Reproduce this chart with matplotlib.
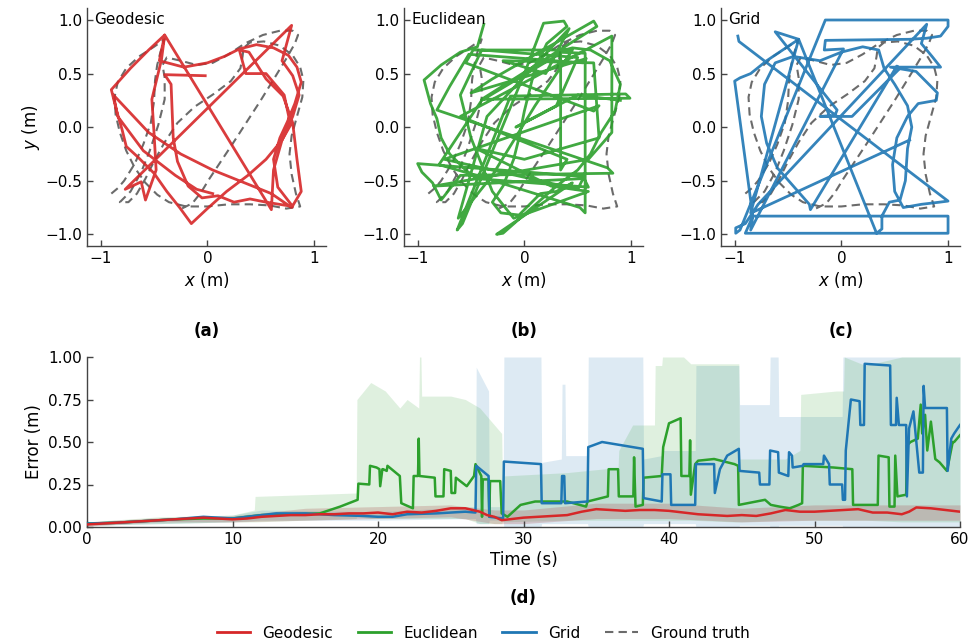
import matplotlib
matplotlib.use("Agg")
import matplotlib.pyplot as plt
from matplotlib.lines import Line2D

# ---------------- data: trajectories (m) ----------------
gt_x = [-0.90, -0.84, -0.78, -0.68, -0.60, -0.53, -0.50, -0.49, -0.47, -0.44, -0.40,
        -0.50, -0.64, -0.76, -0.84, -0.87, -0.86, -0.82, -0.76, -0.68, -0.58, -0.47, -0.36, -0.20, 0.00, 0.20,
        0.40, 0.58, 0.74, 0.87,
        0.83, 0.79, 0.77, 0.79, 0.84, 0.89, 0.90, 0.87, 0.80, 0.68, 0.53, 0.40, 0.34, 0.33,
        0.31, 0.22, 0.06, -0.12, -0.28, -0.40, -0.50, -0.58, -0.66, -0.74, -0.82,
        -0.72, -0.62, -0.54, -0.46, -0.40, -0.40, -0.42, -0.38,
        -0.25, -0.10, 0.05, 0.20, 0.35, 0.52, 0.68, 0.80, 0.85, 0.82, 0.74, 0.63, 0.50, 0.37, 0.24, 0.12, 0.02,
        -0.06, -0.14, -0.24]
gt_y = [-0.62, -0.57, -0.50, -0.34, -0.16, 0.04, 0.24, 0.44, 0.58, 0.70, 0.82,
        0.75, 0.66, 0.55, 0.42, 0.28, 0.12, -0.05, -0.22, -0.38, -0.52, -0.63, -0.70, -0.74, -0.74, -0.72,
        -0.72, -0.73, -0.76, -0.74,
        -0.62, -0.44, -0.25, -0.08, 0.10, 0.28, 0.44, 0.56, 0.67, 0.76, 0.80, 0.79, 0.74, 0.66,
        0.55, 0.43, 0.31, 0.19, 0.04, -0.14, -0.32, -0.48, -0.62, -0.70, -0.70,
        -0.60, -0.42, -0.22, 0.02, 0.26, 0.46, 0.58, 0.65,
        0.62, 0.58, 0.60, 0.68, 0.78, 0.86, 0.90, 0.90, 0.86, 0.78, 0.64, 0.46, 0.25, 0.05, -0.15, -0.33, -0.48,
        -0.61, -0.71, -0.76]

geo_x = [-0.02, -0.40, -0.34, -0.33, -0.32, -0.28, -0.18, -0.05, 0.10, 0.25, 0.40, 0.55, 0.80,
         0.66, 0.62, 0.68, 0.75, 0.82, 0.88, 0.84, 0.76, 0.62, 0.46, 0.30, 0.16, 0.00, -0.22, -0.45, -0.40,
         0.60, 0.62, 0.70, 0.80, 0.86, 0.80, 0.70, 0.79,
         -0.77, -0.62, -0.58, -0.48, -0.50, -0.52, -0.43, -0.40,
         -0.55, -0.72, -0.90, -0.85, -0.80, -0.76, -0.65, -0.50, -0.38, -0.26, -0.15,
         0.00, 0.18, 0.38, 0.55, 0.70, 0.78,
         0.72, 0.55, 0.36, 0.30, 0.39, 0.55, 0.71, 0.80, 0.84, 0.88, 0.79,
         0.60, 0.30, 0.05, -0.25, -0.55, -0.88, -0.84, -0.60, -0.30, -0.10, 0.05]
geo_y = [0.48, 0.49, 0.40, 0.15, -0.10, -0.32, -0.55, -0.66, -0.64, -0.70, -0.67, -0.70, -0.74,
         -0.56, -0.30, -0.10, 0.05, 0.22, 0.42, 0.56, 0.67, 0.74, 0.77, 0.73, 0.66, 0.60, 0.56, 0.62, 0.86,
         -0.77, -0.40, -0.12, 0.10, 0.30, 0.48, 0.62, 0.95,
         -0.58, -0.51, -0.68, -0.40, -0.05, 0.26, 0.63, 0.86,
         0.72, 0.55, 0.35, 0.15, -0.02, -0.18, -0.28, -0.43, -0.60, -0.75, -0.90,
         -0.76, -0.60, -0.45, -0.30, -0.12, 0.02,
         0.30, 0.50, 0.50, 0.72, 0.70, 0.45, 0.29, 0.04, -0.30, -0.60, -0.75,
         -0.62, -0.50, -0.40, -0.25, -0.05, 0.30, 0.10, -0.22, -0.45, -0.58, -0.62]

euc_x = [-0.38, -0.44, -0.60, -0.78, -0.94, -0.88, -0.82, -0.78, -0.70, -0.55, -0.45,
         0.60, 0.55, -1.00, -0.96, -0.86, -0.78, -0.60, 0.83, 0.78, -0.82, -0.70, -0.52,
         0.55, 0.58, -0.50, -0.30, 0.65, 0.68, -0.40, 0.99, 0.95, -0.13, -0.63, -0.58, 0.00,
         0.18, 0.37, 0.40, 0.21, 0.10, 0.05, 0.00, -0.05, -0.10, -0.20, -0.30, -0.22, -0.05, 0.15, 0.30, 0.45,
         -0.26, -0.20, 0.30, 0.50, 0.62, 0.72, 0.85, 0.90, 0.80, 0.62, 0.45, 0.30, 0.57, 0.57, 0.52,
         -0.45, -0.80, -0.40, 0.34, 0.34, 0.40, -0.60, 0.82, 0.82, 0.60,
         -0.85, 0.55, 0.50, -0.75, 0.70, 0.65, -0.55, -0.48, 0.45, 0.10, -0.30, -0.62, -0.35, 0.42, 0.20,
         -0.20, 0.65, 0.70, 0.00, -0.45, 0.25, 0.60, -0.10, -0.30, -0.50, -0.60, -0.40, 0.50, 0.30, -0.08,
         0.50, 0.90]
euc_y = [0.96, 0.75, 0.70, 0.58, 0.44, 0.22, 0.08, -0.10, -0.25, -0.40, -0.48,
         -0.56, -0.46, -0.34, -0.42, -0.52, -0.68, -0.45, -0.43, -0.38, 0.16, 0.38, 0.68,
         0.60, 0.64, 0.32, 0.45, 0.99, 0.94, 0.26, 0.27, 0.31, 0.29, -0.96, -0.90, 0.50,
         0.97, 0.99, 0.94, 0.78, 0.55, 0.35, 0.15, -0.10, -0.30, -0.55, -0.70, -0.80, -0.82, -0.62, -0.60, -0.52,
         -1.00, -0.99, -0.55, -0.40, -0.25, -0.05, 0.15, 0.40, 0.62, 0.72, 0.74, 0.70, 0.69, -0.80, -0.75,
         -0.45, -0.35, 0.25, 0.69, -0.40, -0.30, 0.10, 0.85, -0.05, -0.30,
         -0.55, -0.48, -0.58, -0.30, 0.20, 0.15, 0.60, 0.72, 0.72, 0.20, -0.45, -0.85, 0.10, 0.92, 0.50,
         0.62, 0.60, -0.10, -0.30, -0.20, -0.55, -0.60, -0.85, -0.60, -0.10, 0.30, 0.72, 0.65, 0.20, 0.00,
         0.30, 0.25]

grid_x = [-0.97, -0.96, 1.00, 0.92, 0.75, 0.58, 0.50, 0.48, 0.52, 0.62, 0.72, 0.89, 0.90, 0.80, 0.70, 0.46, 0.93,
          0.85, 0.75, 0.80, -0.78, -0.90, -0.99, -0.99, -0.95, -0.15, 1.00, 1.00, 0.93, 0.80, 0.64, -0.15, -0.16, 0.02,
          -0.85, -0.83, 1.00, 1.00, -0.90, -0.83, -1.00, -0.95, -0.85, -0.70, -0.55, -0.40,
          0.33, 0.38, 0.38, 0.45, 0.55, 0.60, 0.62, 0.66, 0.62, 0.50, 0.40, 0.35, 0.20, 0.00, -0.20, -0.45, -0.62,
          -0.72, -0.75, -0.70, -0.60, -0.45, -0.30, -0.29, 0.52, 0.55, 0.35, 0.10, -0.20, -0.06, -0.04,
          -0.62, -0.40, -0.85, -0.80, 0.64]
grid_y = [0.85, 0.80, -0.69, -0.70, -0.72, -0.75, -0.60, -0.35, -0.10, 0.10, 0.22, 0.25, 0.32, 0.42, 0.52, 0.56, 0.56,
          0.66, 0.78, 0.96, -0.72, -0.90, -0.94, -0.99, -0.96, 1.00, 1.00, 0.94, 0.85, 0.83, 0.82, 0.81, 0.72, 0.73,
          -0.96, -0.83, -0.83, -0.99, -0.99, -0.83, 0.43, 0.46, 0.50, 0.62, 0.72, 0.82,
          -0.99, -0.95, -0.83, -0.70, -0.68, -0.50, -0.20, 0.00, 0.20, 0.40, 0.55, 0.72, 0.75, 0.70, 0.62, 0.66, 0.60,
          0.40, 0.10, -0.15, -0.38, -0.55, -0.72, -0.77, 0.57, 0.55, 0.35, 0.10, 0.10, 0.11, 0.16,
          0.89, 0.82, -0.80, -0.78, -0.12]

# ---------------- data: error over time ----------------
geo_t = [0, 1, 2, 3, 4, 5, 6, 7, 8, 9, 10, 11, 12, 13, 14, 15, 16, 17, 18, 19, 20, 21, 22, 23, 24, 25, 26, 26.5, 27,
         27.5, 28, 28.5, 29, 30, 31, 32, 33, 34, 35, 36, 37, 38, 39, 40, 41, 42, 43, 44, 45, 46, 47, 48, 49, 50, 51,
         52, 53, 54, 55, 56, 56.5, 57, 58, 59, 60]
geo_err = [0.015, 0.02, 0.025, 0.03, 0.035, 0.04, 0.045, 0.05, 0.055, 0.05, 0.045, 0.05, 0.06, 0.065, 0.07, 0.07,
           0.075, 0.075, 0.08, 0.08, 0.085, 0.075, 0.09, 0.085, 0.095, 0.11, 0.11, 0.10, 0.09, 0.07, 0.06, 0.04,
           0.045, 0.055, 0.06, 0.065, 0.07, 0.09, 0.105, 0.10, 0.095, 0.10, 0.10, 0.095, 0.085, 0.075, 0.07, 0.065,
           0.07, 0.065, 0.08, 0.10, 0.09, 0.09, 0.095, 0.10, 0.105, 0.085, 0.085, 0.075, 0.09, 0.115, 0.11, 0.10, 0.09]
geo_band_t = [0, 5, 10, 15, 20, 25, 28, 30, 35, 40, 45, 50, 55, 60]
geo_band_hi = [0.03, 0.055, 0.065, 0.11, 0.12, 0.13, 0.10, 0.10, 0.14, 0.14, 0.11, 0.13, 0.13, 0.13]
geo_band_lo = [0.005, 0.03, 0.03, 0.04, 0.05, 0.06, 0.02, 0.02, 0.05, 0.05, 0.03, 0.04, 0.04, 0.04]

euc_t = [0, 2, 4, 6, 8, 10, 12, 14, 16, 17.4, 18.3, 18.6, 18.65, 19.4, 19.45, 19.9, 20.1, 20.15, 20.3, 20.35, 20.6,
         20.65, 21.5, 21.6, 22.4, 22.45, 22.75, 22.8, 22.85, 23.9, 23.95, 24.5, 24.55, 25.0, 25.05, 25.3, 25.35, 26.1,
         26.6, 26.7, 27.1, 27.15, 27.2, 27.6, 27.65, 27.7, 28.4, 28.5, 28.9, 29.8, 30.8, 33.0, 34.3, 34.4, 35.8, 35.85,
         36.5, 36.55, 37.55, 37.6, 37.7, 38.2, 38.25, 39.5, 39.6, 40.0, 40.8, 40.85, 41.4, 41.45, 41.5, 41.8, 42.0,
         43.1, 44.5, 44.75, 44.8, 46.6, 47.0, 47.6, 48.3, 48.9, 49.15, 49.2, 51.3, 52.6, 52.65, 54.35, 54.4, 55.1,
         55.15, 55.5, 55.55, 55.7, 56.3, 56.35, 56.6, 57.1, 57.3, 57.4, 57.6, 57.75, 58.0, 58.3, 58.6, 59.1, 59.5,
         59.6, 60]
euc_err = [0.02, 0.025, 0.035, 0.045, 0.05, 0.05, 0.07, 0.075, 0.08, 0.12, 0.15, 0.16, 0.255, 0.25, 0.36, 0.35,
           0.34, 0.24, 0.34, 0.34, 0.33, 0.36, 0.30, 0.14, 0.11, 0.30, 0.30, 0.52, 0.30, 0.29, 0.18, 0.18, 0.34,
           0.33, 0.20, 0.20, 0.29, 0.24, 0.30, 0.37, 0.30, 0.06, 0.28, 0.28, 0.06, 0.27, 0.27, 0.08, 0.06, 0.13,
           0.15, 0.15, 0.12, 0.15, 0.18, 0.34, 0.34, 0.18, 0.18, 0.41, 0.12, 0.13, 0.29, 0.30, 0.47, 0.61, 0.64,
           0.30, 0.30, 0.51, 0.19, 0.37, 0.39, 0.40, 0.37, 0.36, 0.13, 0.16, 0.13, 0.12, 0.11, 0.13, 0.14, 0.36,
           0.35, 0.34, 0.13, 0.13, 0.42, 0.41, 0.12, 0.12, 0.42, 0.18, 0.19, 0.48, 0.50, 0.52, 0.72, 0.55, 0.66,
           0.45, 0.62, 0.40, 0.38, 0.33, 0.50, 0.50, 0.54]
euc_band_t = [0, 5, 10, 11.5, 11.55, 18.5, 18.55, 19.5, 20.5, 21.5, 22.0, 22.8, 22.85, 22.95, 23.0, 25.0, 26.0,
              27.0, 28.5, 28.55, 33.0, 36.5, 36.55, 37.5, 39.0, 39.05, 39.5, 39.55, 41.0, 41.5, 44.5, 44.8, 44.85,
              48.0, 49.0, 49.05, 51.5, 52.0, 52.05, 53.5, 56.0, 58.0, 60]
euc_band_hi = [0.03, 0.06, 0.07, 0.10, 0.18, 0.20, 0.75, 0.85, 0.80, 0.70, 0.75, 0.70, 1.0, 1.0, 0.77, 0.77, 0.75,
               0.70, 0.55, 0.30, 0.32, 0.35, 0.45, 0.60, 0.60, 0.95, 0.95, 1.0, 1.0, 0.96, 0.96, 0.96, 0.40, 0.40,
               0.45, 0.78, 0.80, 0.80, 1.0, 0.95, 1.0, 1.0, 1.0]
euc_band_lo = [0.01, 0.02, 0.03, 0.03, 0.03, 0.05, 0.06, 0.05, 0.05, 0.05, 0.05, 0.05, 0.05, 0.05, 0.05, 0.05,
               0.05, 0.02, 0.02, 0.03, 0.04, 0.04, 0.04, 0.04, 0.04, 0.04, 0.04, 0.04, 0.04, 0.04, 0.03, 0.03, 0.03,
               0.04, 0.04, 0.04, 0.04, 0.04, 0.04, 0.04, 0.03, 0.03, 0.03]

grid_t = [0, 2, 4, 6, 8, 9, 10, 12, 13, 15, 17, 19, 20, 21, 22, 24, 26, 26.7, 26.75, 27.6, 27.65, 28.6, 28.65,
          31.2, 31.25, 32.6, 32.65, 32.8, 32.85, 34.4, 34.45, 35.4, 38.2, 38.25, 39.5, 39.55, 40.1, 40.15, 41.8,
          41.85, 43.1, 43.15, 43.5, 44.0, 44.8, 44.85, 46.2, 46.25, 46.9, 46.95, 47.5, 47.55, 48.2, 48.25, 48.45,
          48.5, 49.2, 49.25, 50.6, 50.65, 51.0, 51.05, 51.9, 51.95, 52.1, 52.15, 52.5, 53.1, 53.15, 53.4, 53.45,
          55.2, 55.25, 55.6, 55.65, 55.8, 56.3, 56.35, 56.5, 56.8, 57.0, 57.2, 57.45, 57.5, 57.6, 59.1, 59.15, 59.4,
          59.6, 60]
grid_err = [0.02, 0.025, 0.035, 0.045, 0.06, 0.055, 0.05, 0.07, 0.08, 0.08, 0.07, 0.065, 0.06, 0.06, 0.075, 0.08,
            0.09, 0.085, 0.36, 0.30, 0.06, 0.05, 0.385, 0.37, 0.14, 0.14, 0.30, 0.30, 0.14, 0.15, 0.47, 0.50, 0.46,
            0.17, 0.15, 0.31, 0.31, 0.13, 0.13, 0.37, 0.37, 0.20, 0.34, 0.42, 0.46, 0.33, 0.32, 0.25, 0.25, 0.45,
            0.44, 0.32, 0.30, 0.44, 0.42, 0.35, 0.36, 0.37, 0.37, 0.42, 0.37, 0.25, 0.25, 0.16, 0.16, 0.45, 0.75,
            0.74, 0.60, 0.60, 0.96, 0.95, 0.60, 0.60, 0.76, 0.60, 0.60, 0.18, 0.58, 0.68, 0.50, 0.32, 0.32, 0.83,
            0.70, 0.70, 0.33, 0.52, 0.55, 0.60]
grid_band_t = [0, 10, 12, 20, 26.7, 26.75, 27.6, 27.65, 28.6, 28.65, 31.2, 31.25, 32.6, 32.65, 32.85, 32.9, 34.4,
               34.45, 38.2, 38.25, 39.5, 39.55, 41.8, 41.85, 44.8, 44.85, 46.9, 46.95, 47.5, 47.55, 51.9, 51.95, 60]
grid_band_hi = [0.03, 0.07, 0.10, 0.09, 0.12, 0.94, 0.80, 0.12, 0.12, 1.0, 1.0, 0.38, 0.40, 0.84, 0.84, 0.42, 0.42,
                1.0, 1.0, 0.40, 0.42, 0.45, 0.45, 0.95, 0.95, 0.72, 0.72, 1.0, 1.0, 0.65, 0.65, 1.0, 1.0]
grid_band_lo = [0.01, 0.03, 0.04, 0.04, 0.05, 0.02, 0.02, 0.04, 0.04, 0.0, 0.0, 0.02, 0.02, 0.02, 0.02, 0.02, 0.02,
                0.0, 0.0, 0.02, 0.02, 0.02, 0.02, 0.0, 0.0, 0.01, 0.01, 0.0, 0.0, 0.01, 0.01, 0.0, 0.0]

# ---------------- styling ----------------
RED, GREEN, BLUE, GT = "#d62728", "#2ca02c", "#1f77b4", "#6b6b6b"
plt.rcParams["font.family"] = ["DejaVu Sans"]
plt.rcParams["font.size"] = 11

W, H = 972, 644
fig = plt.figure(figsize=(W / 100, H / 100), dpi=100)


def px_rect(left, top, right, bottom):
    return [left / W, (H - bottom) / H, (right - left) / W, (bottom - top) / H]


def style(ax):
    for s in ("top", "right"):
        ax.spines[s].set_visible(False)
    for s in ("left", "bottom"):
        ax.spines[s].set_color("#444444")
        ax.spines[s].set_linewidth(1.0)
    ax.tick_params(direction="in", length=4, width=1, color="#444444", labelsize=11)


panels = [
    (87, "Geodesic", geo_x, geo_y, RED, "(a)"),
    (404, "Euclidean", euc_x, euc_y, GREEN, "(b)"),
    (721, "Grid", grid_x, grid_y, BLUE, "(c)"),
]
for i, (left, name, xs, ys, col, lab) in enumerate(panels):
    ax = fig.add_axes(px_rect(left, 8, left + 239, 246))
    style(ax)
    ax.plot(gt_x, gt_y, color=GT, lw=1.5, ls=(0, (4, 2.5)), zorder=2)
    ax.plot(xs, ys, color=col, lw=2.0, alpha=0.9, zorder=3)
    ax.set_xlim(-1.128, 1.112)
    ax.set_ylim(-1.109, 1.112)
    ax.set_xticks([-1, 0, 1])
    ax.set_yticks([-1.0, -0.5, 0.0, 0.5, 1.0])
    ax.set_xticklabels(["\u22121", "0", "1"])
    ax.set_yticklabels(["\u22121.0", "\u22120.5", "0.0", "0.5", "1.0"])
    ax.set_xlabel("$x$ (m)", fontsize=12, labelpad=3)
    if i == 0:
        ax.set_ylabel("$y$ (m)", fontsize=12, labelpad=2)
    ax.text(0.03, 0.95, name, transform=ax.transAxes, fontsize=11, ha="left", va="center")
    fig.text((left + 120) / W, (H - 331) / H, lab, ha="center", va="center", fontsize=12, fontweight="bold")

axd = fig.add_axes(px_rect(87, 357, 960, 527))
style(axd)
axd.fill_between(grid_band_t, grid_band_lo, grid_band_hi, color=BLUE, alpha=0.15, lw=0, zorder=1)
axd.fill_between(euc_band_t, euc_band_lo, euc_band_hi, color=GREEN, alpha=0.15, lw=0, zorder=1)
axd.fill_between(geo_band_t, geo_band_lo, geo_band_hi, color=RED, alpha=0.15, lw=0, zorder=1)
axd.fill_between(geo_band_t, geo_band_lo, geo_band_hi, color="#808080", alpha=0.12, lw=0, zorder=1)
axd.plot(euc_t, euc_err, color=GREEN, lw=1.8, zorder=3)
axd.plot(grid_t, grid_err, color=BLUE, lw=1.8, zorder=4)
axd.plot(geo_t, geo_err, color=RED, lw=1.8, zorder=5)
axd.set_xlim(0, 60)
axd.set_ylim(0, 1)
axd.set_xticks([0, 10, 20, 30, 40, 50, 60])
axd.set_yticks([0, 0.25, 0.5, 0.75, 1.0])
axd.set_yticklabels(["0.00", "0.25", "0.50", "0.75", "1.00"])
axd.set_xlabel("Time (s)", fontsize=12, labelpad=3)
axd.set_ylabel("Error (m)", fontsize=12, labelpad=4)
fig.text(523 / W, (H - 598) / H, "(d)", ha="center", va="center", fontsize=12, fontweight="bold")

handles = [
    Line2D([], [], color=RED, lw=2),
    Line2D([], [], color=GREEN, lw=2),
    Line2D([], [], color=BLUE, lw=2),
    Line2D([], [], color=GT, lw=1.5, ls=(0, (4, 2.5))),
]
fig.legend(handles, ["Geodesic", "Euclidean", "Grid", "Ground truth"], loc="center",
           bbox_to_anchor=(483 / W, (H - 633) / H), ncol=4, frameon=False, fontsize=11,
           handlelength=2.2, columnspacing=1.6, handletextpad=0.8)

fig.savefig("out.png", dpi=100)
